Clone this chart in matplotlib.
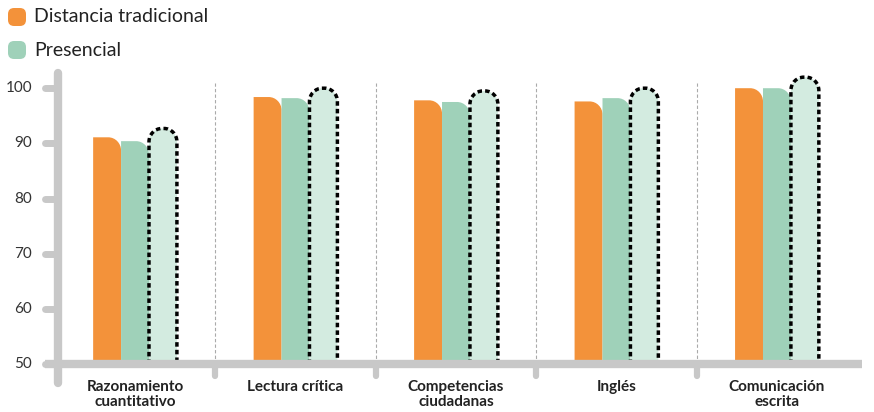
import numpy as np
import matplotlib.pyplot as plt
from matplotlib.path import Path
from matplotlib.patches import PathPatch, FancyBboxPatch

categories = ['Razonamiento\ncuantitativo', 'Lectura crítica', 'Competencias\nciudadanas',
              'Inglés', 'Comunicación\nescrita']
distancia = [91.1, 98.4, 97.8, 97.6, 100.0]
presencial = [90.4, 98.2, 97.5, 98.2, 100.0]
referencia = [92.7, 100.0, 99.5, 100.0, 102.0]
yticks = [50, 60, 70, 80, 90, 100]

orange = '#F3923A'
green = '#9FD1B9'
light = '#D3EBE0'
grey = '#C8C8C8'

plt.rcParams['font.family'] = ['Lato', 'DejaVu Sans']

fig = plt.figure(figsize=(8.74, 4.12), dpi=100)
ax = fig.add_axes([58 / 874, 27 / 412, 804 / 874, 315 / 412])
x = np.arange(len(categories))
w = 0.174
ax.set_xlim(-0.48, 4.53)
ax.set_ylim(46.2, 103.3)
ax.axis('off')


def rounded(rect, rx, ry, left_round):
    x0, y0 = rect.get_x(), rect.get_y()
    x1, y1 = x0 + rect.get_width(), y0 + rect.get_height()
    k = 0.55
    verts = [(x0, y0)]
    codes = [Path.MOVETO]
    if left_round:
        verts += [(x0, y1 - ry), (x0, y1 - ry + k * ry), (x0 + rx - k * rx, y1), (x0 + rx, y1)]
        codes += [Path.LINETO, Path.CURVE4, Path.CURVE4, Path.CURVE4]
    else:
        verts += [(x0, y1)]
        codes += [Path.LINETO]
    verts += [(x1 - rx, y1), (x1 - rx + k * rx, y1), (x1, y1 - ry + k * ry), (x1, y1 - ry), (x1, y0)]
    codes += [Path.LINETO, Path.CURVE4, Path.CURVE4, Path.CURVE4, Path.LINETO]
    return Path(verts, codes)


rx, ry = 0.08, 2.4
for vals, off, col, dashed in [(distancia, -w, orange, False), (presencial, 0, green, False),
                               (referencia, w, light, True)]:
    bars = ax.bar(x + off, np.array(vals) - 50, w, bottom=50, color=col)
    for b in bars:
        b.set_visible(False)
        p = rounded(b, rx, ry, dashed)
        ax.add_patch(PathPatch(p, facecolor=col, edgecolor='none', zorder=2))
        if dashed:
            ax.add_patch(PathPatch(p, facecolor='none', edgecolor='black', lw=2.5,
                                   linestyle=(0, (1.3, 0.9)), zorder=3))

# separators
for s in x[:-1] + 0.5:
    ax.plot([s, s], [50, 101], color='#AAAAAA', lw=0.8, ls=(0, (3, 2)), zorder=1)
    ax.plot([s, s], [50, 47.8], color=grey, lw=4.5, solid_capstyle='round', clip_on=False, zorder=4)

# axes
ax.plot([-0.48, -0.48], [46.6, 102.8], color=grey, lw=6, solid_capstyle='round', clip_on=False, zorder=4)
ax.plot([-0.56, 4.53], [50, 50], color=grey, lw=6, solid_capstyle='butt', clip_on=False, zorder=4)
for t in yticks:
    ax.plot([-0.56, -0.48], [t, t], color=grey, lw=5, solid_capstyle='round', clip_on=False, zorder=4)
    ax.text(-0.64, t, str(t), ha='right', va='center', fontsize=11, color='#333333')

for xi, c in zip(x, categories):
    ax.text(xi, 47.1, c, ha='center', va='top', fontsize=11, fontweight='bold',
            color='#222222', linespacing=1.12)

# legend
for i, (lab, col) in enumerate([('Distancia tradicional', orange), ('Presencial', green)]):
    yc = 1 - (17 + 33 * i) / 412
    fig.patches.append(FancyBboxPatch((8 / 874, yc - 9 / 412), 18 / 874, 18 / 412,
                                      boxstyle='round,pad=0,rounding_size=0.007',
                                      transform=fig.transFigure, facecolor=col, edgecolor='none',
                                      mutation_aspect=874 / 412))
    fig.text(34 / 874, yc, lab, ha='left', va='center', fontsize=14, color='#222222')

fig.savefig('out.png', dpi=100)
